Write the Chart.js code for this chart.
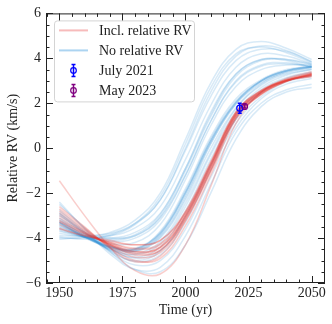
<!DOCTYPE html>
<html>
<head>
<meta charset="utf-8">
<script src="https://cdn.jsdelivr.net/npm/chart.js@4.4.1/dist/chart.umd.min.js"></script>
<style>
  html, body { margin: 0; padding: 0; background: #fff; }
  canvas { display: block; }
</style>
</head>
<body>
<canvas id="rv-chart" width="332" height="324"></canvas>
<script>
// Epochs (yr) at which every orbit draw is sampled
const years = [1950, 1960, 1970, 1980, 1990, 2000, 2010, 2020, 2030, 2040, 2050];

// Orbit draws fitted with the relative RV (km/s)
const inclRelRV = [
    [-3.20, -3.75, -4.25, -4.60, -4.40, -3.00, -0.80, 1.50, 2.50, 3.00, 3.27],
    [-3.00, -3.70, -4.30, -4.70, -4.55, -3.15, -0.95, 1.40, 2.44, 2.98, 3.28],
    [-3.40, -3.85, -4.20, -4.45, -4.25, -2.85, -0.65, 1.60, 2.56, 3.02, 3.24],
    [-2.80, -3.60, -4.35, -4.85, -4.65, -3.20, -1.00, 1.38, 2.42, 2.97, 3.30],
    [-3.55, -3.90, -4.15, -4.30, -4.10, -2.80, -0.60, 1.62, 2.58, 3.05, 3.25],
    [-2.60, -3.50, -4.45, -5.05, -4.80, -3.25, -1.05, 1.35, 2.40, 2.98, 3.32],
    [-3.10, -3.75, -4.30, -4.65, -4.45, -3.05, -0.85, 1.48, 2.50, 3.06, 3.36],
    [-3.30, -3.80, -4.20, -4.50, -4.30, -2.92, -0.72, 1.55, 2.53, 3.00, 3.18],
    [-1.45, -3.00, -4.40, -5.45, -5.60, -4.30, -1.70, 1.10, 2.50, 3.10, 3.40],
    [-2.90, -3.65, -4.30, -4.75, -4.55, -3.10, -0.90, 1.45, 2.48, 3.04, 3.34],
    [-3.60, -3.90, -4.10, -4.30, -4.10, -2.88, -0.70, 1.58, 2.55, 3.01, 3.20],
    [-3.25, -3.80, -4.25, -4.60, -4.40, -3.00, -0.78, 1.52, 2.50, 3.00, 3.26],
    [-2.70, -3.55, -4.40, -5.00, -4.90, -3.45, -1.20, 1.30, 2.40, 3.00, 3.30]
];

// Orbit draws fitted without the relative RV (km/s)
const noRelRV = [
    [-4.05, -3.95, -3.75, -3.20, -2.00, 0.40, 2.90, 4.40, 4.75, 4.45, 3.95],
    [-3.90, -3.90, -3.80, -3.35, -2.30, 0.00, 2.50, 4.10, 4.55, 4.35, 3.85],
    [-3.80, -3.95, -3.90, -3.55, -2.60, -0.50, 1.90, 3.60, 4.20, 4.10, 3.75],
    [-3.70, -3.95, -4.00, -3.75, -2.90, -0.90, 1.50, 3.30, 3.95, 3.95, 3.70],
    [-3.55, -3.95, -4.15, -4.00, -3.20, -1.20, 1.20, 2.95, 3.65, 3.75, 3.65],
    [-3.35, -3.95, -4.35, -4.45, -3.75, -1.90, 0.40, 2.10, 3.00, 3.45, 3.60],
    [-3.30, -3.95, -4.35, -4.50, -3.80, -2.00, 0.30, 2.00, 2.95, 3.40, 3.60],
    [-3.40, -4.00, -4.40, -4.50, -3.70, -1.80, 0.50, 2.20, 3.05, 3.50, 3.65],
    [-3.25, -3.90, -4.35, -4.55, -3.90, -2.10, 0.20, 1.95, 2.90, 3.40, 3.60],
    [-3.10, -3.85, -4.45, -4.75, -4.25, -2.60, -0.30, 1.60, 2.70, 3.25, 3.50],
    [-2.90, -3.80, -4.55, -5.00, -4.60, -3.00, -0.70, 1.30, 2.50, 3.10, 3.35],
    [-2.75, -3.70, -4.60, -5.20, -5.00, -3.60, -1.30, 0.90, 2.20, 2.85, 3.10],
    [-2.50, -3.55, -4.60, -5.40, -5.50, -4.30, -2.00, 0.40, 1.85, 2.50, 2.70],
    [-3.60, -3.95, -4.05, -3.85, -2.95, -0.90, 1.60, 3.30, 3.95, 3.90, 3.60],
    [-3.45, -3.95, -4.25, -4.20, -3.40, -1.40, 1.00, 2.75, 3.50, 3.70, 3.70],
    [-3.20, -3.90, -4.40, -4.60, -4.00, -2.30, 0.00, 1.80, 2.85, 3.35, 3.55],
    [-3.00, -3.80, -4.50, -4.85, -4.40, -2.80, -0.50, 1.45, 2.60, 3.15, 3.40],
    [-2.40, -3.60, -4.70, -5.40, -5.30, -3.90, -1.60, 0.70, 2.00, 2.60, 2.85],
    [-3.95, -4.05, -3.90, -3.40, -2.30, -0.10, 2.30, 3.90, 4.40, 4.30, 3.85],
    [-3.50, -3.85, -4.00, -3.90, -3.10, -1.20, 1.20, 3.00, 3.70, 3.80, 3.60],
    [-3.30, -3.95, -4.45, -4.60, -3.95, -2.20, 0.20, 2.00, 3.00, 3.45, 3.65],
    [-3.15, -3.90, -4.50, -4.70, -4.15, -2.45, -0.20, 1.75, 2.80, 3.30, 3.50],
    [-2.95, -3.75, -4.45, -4.90, -4.55, -3.10, -0.80, 1.30, 2.45, 3.00, 3.25],
    [-4.00, -4.00, -3.85, -3.35, -2.15, 0.20, 2.70, 4.20, 4.50, 4.25, 3.80],
    [-3.35, -3.95, -4.40, -4.50, -3.80, -1.95, 0.35, 2.05, 3.00, 3.45, 3.65],
    [-3.30, -3.95, -4.40, -4.55, -3.85, -2.00, 0.30, 2.05, 3.00, 3.45, 3.62],
    [-3.65, -3.95, -4.10, -3.90, -3.05, -1.00, 1.40, 3.20, 3.90, 3.95, 3.75],
    [-2.85, -3.75, -4.55, -5.05, -4.75, -3.30, -1.00, 1.10, 2.30, 2.95, 3.20]
];

// Measured relative RVs with 1-sigma errors
const obsLabels = ['July 2021', 'May 2023'];
const obsYears = [2021.5, 2023.4];
const obsRV = [1.78, 1.86];
const obsErr = [0.22, 0.07];

// Series names and tick values
const seriesLabels = ['Incl. relative RV', 'No relative RV'];
const xTicks = [1950, 1975, 2000, 2025, 2050];
const yTicks = [-6, -4, -2, 0, 2, 4, 6];

const FONT = 'Liberation Serif';
const INK = '#222';
const RED_LINE = 'rgba(228, 50, 40, 0.24)';
const BLUE_LINE = 'rgba(50, 145, 215, 0.19)';
const RED_LEGEND = 'rgba(240, 120, 120, 0.5)';
const BLUE_LEGEND = 'rgba(70, 160, 225, 0.45)';
const OBS_COLORS = ['#0000ff', '#800080'];

// Turn a row of values into {x, y} points along the epochs
function toPoints(values) {
    return values.map((v, i) => ({ x: years[i], y: v }));
}

function curveDataset(values, color) {
    return {
        data: toPoints(values),
        borderColor: color,
        borderWidth: 1.5,
        pointRadius: 0,
        tension: 0.4,
        fill: false
    };
}

// Vertical error bars with caps for the measured points
const errorBars = {
    id: 'errorBars',
    afterDatasetsDraw(chart) {
        const { ctx, scales: { x, y } } = chart;
        ctx.save();
        ctx.lineWidth = 1.5;
        obsYears.forEach((yr, i) => {
            const px = x.getPixelForValue(yr);
            const top = y.getPixelForValue(obsRV[i] + obsErr[i]);
            const bot = y.getPixelForValue(obsRV[i] - obsErr[i]);
            ctx.strokeStyle = OBS_COLORS[i];
            ctx.beginPath();
            ctx.moveTo(px, top); ctx.lineTo(px, bot);
            ctx.moveTo(px - 2, top); ctx.lineTo(px + 2, top);
            ctx.moveTo(px - 2, bot); ctx.lineTo(px + 2, bot);
            ctx.stroke();
        });
        ctx.restore();
    }
};

// Matplotlib-like legend inside the upper left corner
const innerLegend = {
    id: 'innerLegend',
    afterDatasetsDraw(chart) {
        const { ctx, chartArea: a } = chart;
        const bx = a.left + 8, by = a.top + 7, bw = 140, bh = 81;
        ctx.save();
        ctx.fillStyle = 'rgba(255,255,255,0.85)';
        ctx.strokeStyle = '#d4d4d4';
        ctx.lineWidth = 1;
        ctx.beginPath();
        ctx.roundRect(bx + 0.5, by + 0.5, bw, bh, 3);
        ctx.fill();
        ctx.stroke();

        const labels = seriesLabels.concat(obsLabels);
        const handleX = bx + 5, handleW = 29, textX = bx + 45;
        ctx.font = '14px "' + FONT + '"';
        ctx.textBaseline = 'middle';
        labels.forEach((label, i) => {
            const cy = by + 10 + i * 20;
            if (i < 2) {
                ctx.strokeStyle = i === 0 ? RED_LEGEND : BLUE_LEGEND;
                ctx.lineWidth = 2;
                ctx.beginPath();
                ctx.moveTo(handleX, cy); ctx.lineTo(handleX + handleW, cy);
                ctx.stroke();
            } else {
                const c = OBS_COLORS[i - 2];
                const mx = handleX + handleW / 2;
                ctx.strokeStyle = c;
                ctx.lineWidth = 1.5;
                ctx.beginPath();
                ctx.moveTo(mx, cy - 6); ctx.lineTo(mx, cy + 6);
                ctx.moveTo(mx - 2, cy - 6); ctx.lineTo(mx + 2, cy - 6);
                ctx.moveTo(mx - 2, cy + 6); ctx.lineTo(mx + 2, cy + 6);
                ctx.stroke();
                ctx.lineWidth = 1.2;
                ctx.beginPath();
                ctx.arc(mx, cy, 2.8, 0, Math.PI * 2);
                ctx.stroke();
            }
            ctx.fillStyle = INK;
            ctx.fillText(label, textX, cy + 1);
        });
        ctx.restore();
    }
};

// Box frame with inward major and minor ticks on all four sides
const frameTicks = {
    id: 'frameTicks',
    afterDraw(chart) {
        const { ctx, chartArea: a, scales: { x, y } } = chart;
        ctx.save();
        ctx.strokeStyle = INK;
        ctx.lineWidth = 1;
        ctx.strokeRect(a.left + 0.5, a.top + 0.5, a.right - a.left - 1, a.bottom - a.top - 1);
        ctx.beginPath();
        for (let v = 1945; v <= 2055; v += 5) {
            const px = Math.round(x.getPixelForValue(v)) + 0.5;
            if (px < a.left || px > a.right) continue;
            const len = v % 25 === 0 ? 7 : 3.5;
            ctx.moveTo(px, a.bottom); ctx.lineTo(px, a.bottom - len);
            ctx.moveTo(px, a.top); ctx.lineTo(px, a.top + len);
        }
        for (let v = -6; v <= 6; v += 0.5) {
            const py = Math.round(y.getPixelForValue(v)) + 0.5;
            const len = v % 2 === 0 ? 7 : 3.5;
            ctx.moveTo(a.left, py); ctx.lineTo(a.left + len, py);
            ctx.moveTo(a.right, py); ctx.lineTo(a.right - len, py);
        }
        ctx.stroke();
        ctx.restore();
    }
};

function createChart() {
    const datasets = [];
    obsYears.forEach((yr, i) => {
        datasets.push({
            data: [{ x: yr, y: obsRV[i] }],
            showLine: false,
            pointRadius: 3,
            pointBorderWidth: 1.2,
            pointBorderColor: OBS_COLORS[i],
            pointBackgroundColor: 'rgba(0,0,0,0)'
        });
    });
    inclRelRV.forEach(row => datasets.push(curveDataset(row, RED_LINE)));
    noRelRV.forEach(row => datasets.push(curveDataset(row, BLUE_LINE)));

    const tickFont = { family: FONT, size: 14 };
    new Chart(document.getElementById('rv-chart'), {
        type: 'line',
        data: { datasets },
        options: {
            responsive: false,
            animation: false,
            devicePixelRatio: 1,
            layout: { padding: { top: 12, right: 7, left: 0, bottom: 0 } },
            plugins: { legend: { display: false }, tooltip: { enabled: false } },
            scales: {
                x: {
                    type: 'linear',
                    min: 1944.7,
                    max: 2055.3,
                    afterBuildTicks: s => { s.ticks = xTicks.map(v => ({ value: v })); },
                    afterFit: s => { s.height = 41; },
                    grid: { display: false, drawTicks: false },
                    border: { display: false },
                    ticks: {
                        font: tickFont, color: INK, padding: 2, maxRotation: 0, autoSkip: false,
                        callback: v => String(v)
                    },
                    title: { display: true, text: 'Time (yr)', font: tickFont, color: INK, padding: { top: 0, bottom: 5 } }
                },
                y: {
                    min: -6,
                    max: 6,
                    afterBuildTicks: s => { s.ticks = yTicks.map(v => ({ value: v })); },
                    afterFit: s => { s.width = 46; },
                    grid: { display: false, drawTicks: false },
                    border: { display: false },
                    ticks: {
                        font: tickFont, color: INK, padding: 5,
                        callback: v => String(v).replace('-', '\u2212')
                    },
                    title: { display: true, text: 'Relative RV (km/s)', font: tickFont, color: INK, padding: { top: 5, bottom: 0 } }
                }
            }
        },
        plugins: [errorBars, innerLegend, frameTicks]
    });
}

document.addEventListener('DOMContentLoaded', createChart);
</script>
</body>
</html>
